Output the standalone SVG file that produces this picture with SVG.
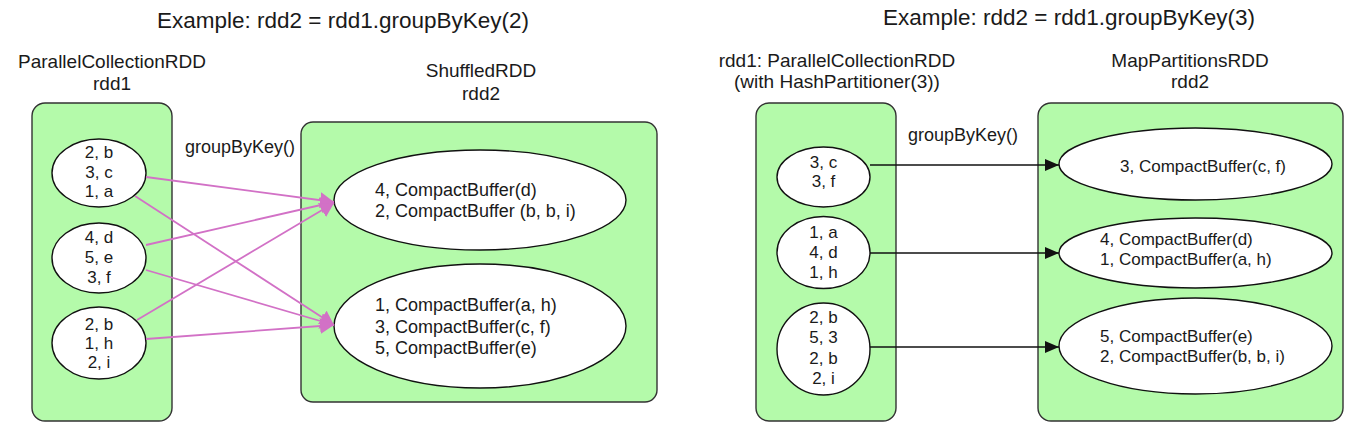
<svg xmlns="http://www.w3.org/2000/svg" width="1354" height="428" viewBox="0 0 1354 428">
<style>
text{font-family:"Liberation Sans",Arial,sans-serif;fill:#1a1a1a}
.title{font-size:22.5px;text-anchor:middle}
.lbl{font-size:19px;text-anchor:middle}
.op{font-size:18px}
.small{font-size:17px;text-anchor:middle}
.big{font-size:18px}
.big2{font-size:17px}
.box{fill:#b4faaa;stroke:#333;stroke-width:1.4}
.ell{fill:#fff;stroke:#111;stroke-width:1.4}
.pink{stroke:#d271c6;stroke-width:1.8;fill:none}
.blk{stroke:#111;stroke-width:1.6;fill:none}
</style>
<defs>
<marker id="ahp" markerUnits="userSpaceOnUse" markerWidth="16" markerHeight="16" refX="14" refY="8" orient="auto">
<path d="M0,0 L14,8 L0,16 z" fill="#d271c6"/>
</marker>
<marker id="ahb" markerUnits="userSpaceOnUse" markerWidth="14" markerHeight="12" refX="14" refY="6" orient="auto">
<path d="M0,0 L14,6 L0,12 z" fill="#111"/>
</marker>
</defs>
<rect width="1354" height="428" fill="#fff"/>

<!-- Left example -->
<text class="title" x="343" y="28">Example: rdd2 = rdd1.groupByKey(2)</text>

<g id="rdd1-left">
<text class="lbl" x="112" y="68">ParallelCollectionRDD</text>
<text class="lbl" x="112" y="90">rdd1</text>
<rect class="box" x="32" y="103" width="140" height="318" rx="13"/>
</g>
<g id="L-p1">
<ellipse class="ell" cx="99" cy="173" rx="47" ry="34"/>
<text class="small" x="99" y="158">2, b</text>
<text class="small" x="99" y="178">3, c</text>
<text class="small" x="99" y="197">1, a</text>
</g>
<g id="L-p2">
<ellipse class="ell" cx="99" cy="258" rx="47" ry="35"/>
<text class="small" x="99" y="243">4, d</text>
<text class="small" x="99" y="263">5, e</text>
<text class="small" x="99" y="283">3, f</text>
</g>
<g id="L-p3">
<ellipse class="ell" cx="99" cy="343" rx="47" ry="36"/>
<text class="small" x="99" y="330">2, b</text>
<text class="small" x="99" y="349">1, h</text>
<text class="small" x="99" y="368">2, i</text>
</g>

<g id="rdd2-left">
<text class="lbl" x="481" y="77">ShuffledRDD</text>
<text class="lbl" x="481" y="100">rdd2</text>
<rect class="box" x="301" y="122" width="356" height="280" rx="12"/>
</g>
<g id="L-q1">
<ellipse class="ell" cx="480" cy="200" rx="146" ry="50"/>
<text class="big" x="375" y="196">4, CompactBuffer(d)</text>
<text class="big" x="375" y="217">2, CompactBuffer (b, b, i)</text>
</g>
<g id="L-q2">
<ellipse class="ell" cx="480" cy="326" rx="146" ry="62"/>
<text class="big" x="375" y="311">1, CompactBuffer(a, h)</text>
<text class="big" x="375" y="333">3, CompactBuffer(c, f)</text>
<text class="big" x="375" y="354">5, CompactBuffer(e)</text>
</g>

<text class="op" x="185" y="153">groupByKey()</text>

<g id="connectors-left">
<line class="pink" x1="146" y1="177" x2="334" y2="202" marker-end="url(#ahp)"/>
<line class="pink" x1="135" y1="196" x2="334" y2="325" marker-end="url(#ahp)"/>
<line class="pink" x1="146" y1="245" x2="334" y2="202" marker-end="url(#ahp)"/>
<line class="pink" x1="146" y1="270" x2="334" y2="325" marker-end="url(#ahp)"/>
<line class="pink" x1="137" y1="320" x2="334" y2="203" marker-end="url(#ahp)"/>
<line class="pink" x1="146" y1="339" x2="334" y2="325" marker-end="url(#ahp)"/>
</g>

<!-- Right example -->
<text class="title" x="1069" y="25">Example: rdd2 = rdd1.groupByKey(3)</text>

<g id="rdd1-right">
<text class="lbl" x="837" y="67">rdd1: ParallelCollectionRDD</text>
<text class="lbl" x="837" y="88">(with HashPartitioner(3))</text>
<rect class="box" x="756" y="103" width="140" height="318" rx="13"/>
</g>
<g id="R-p1">
<ellipse class="ell" cx="823.5" cy="177" rx="46.5" ry="30"/>
<text class="small" x="823.5" y="168">3, c</text>
<text class="small" x="823.5" y="187">3, f</text>
</g>
<g id="R-p2">
<ellipse class="ell" cx="823.5" cy="252.5" rx="46.5" ry="36"/>
<text class="small" x="823.5" y="238">1, a</text>
<text class="small" x="823.5" y="258">4, d</text>
<text class="small" x="823.5" y="278">1, h</text>
</g>
<g id="R-p3">
<ellipse class="ell" cx="823.5" cy="349" rx="46.5" ry="46"/>
<text class="small" x="823.5" y="323">2, b</text>
<text class="small" x="823.5" y="343">5, 3</text>
<text class="small" x="823.5" y="364">2, b</text>
<text class="small" x="823.5" y="384">2, i</text>
</g>

<g id="rdd2-right">
<text class="lbl" x="1190" y="67">MapPartitionsRDD</text>
<text class="lbl" x="1190" y="88">rdd2</text>
<rect class="box" x="1038" y="103" width="305" height="318" rx="13"/>
</g>
<g id="R-q1">
<ellipse class="ell" cx="1195.5" cy="164" rx="136.5" ry="36"/>
<text class="big2" x="1203" y="172" text-anchor="middle">3, CompactBuffer(c, f)</text>
</g>
<g id="R-q2">
<ellipse class="ell" cx="1195.5" cy="253" rx="136.5" ry="35"/>
<text class="big2" x="1100" y="245">4, CompactBuffer(d)</text>
<text class="big2" x="1100" y="265">1, CompactBuffer(a, h)</text>
</g>
<g id="R-q3">
<ellipse class="ell" cx="1195.5" cy="346" rx="136.5" ry="48"/>
<text class="big2" x="1100" y="342">5, CompactBuffer(e)</text>
<text class="big2" x="1100" y="362">2, CompactBuffer(b, b, i)</text>
</g>

<text class="op" x="908" y="141">groupByKey()</text>

<g id="connectors-right">
<line class="blk" x1="870" y1="165" x2="1059" y2="165" marker-end="url(#ahb)"/>
<line class="blk" x1="870" y1="253" x2="1059" y2="253" marker-end="url(#ahb)"/>
<line class="blk" x1="870" y1="347" x2="1059" y2="347" marker-end="url(#ahb)"/>
</g>
</svg>
